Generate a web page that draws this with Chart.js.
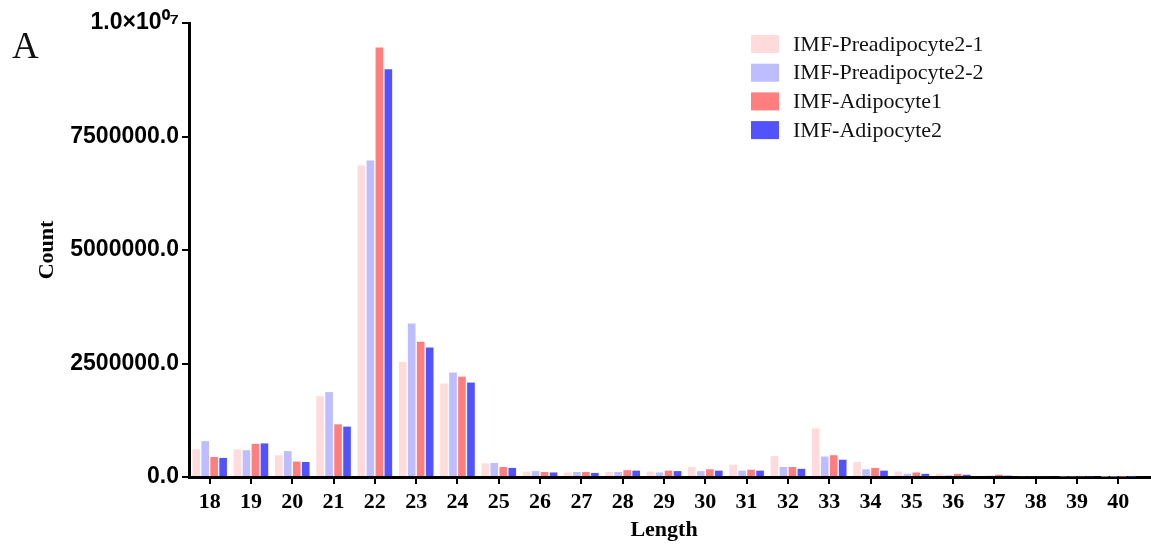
<!DOCTYPE html>
<html>
<head>
<meta charset="utf-8">
<script src="https://cdn.jsdelivr.net/npm/chart.js@4.4.1/dist/chart.umd.min.js"></script>
<style>
  body { margin: 0; background: #fff; }
</style>
</head>
<body>
<canvas id="lengthChart" width="1151" height="550"></canvas>
<script>
// read length distribution (counts per read length)
const lengths = ['18', '19', '20', '21', '22', '23', '24', '25', '26', '27', '28', '29',
    '30', '31', '32', '33', '34', '35', '36', '37', '38', '39', '40'];

const pre1Counts = [610000, 610000, 480000, 1780000, 6860000, 2540000, 2060000, 300000, 120000, 100000, 110000, 120000,
    220000, 270000, 460000, 1070000, 330000, 120000, 70000, 30000, 20000, 15000, 10000];
const pre2Counts = [790000, 590000, 570000, 1870000, 6970000, 3380000, 2300000, 310000, 130000, 110000, 110000, 100000,
    130000, 140000, 220000, 450000, 170000, 70000, 40000, 30000, 20000, 15000, 10000];
const adipo1Counts = [440000, 730000, 340000, 1160000, 9460000, 2980000, 2210000, 220000, 110000, 110000, 150000, 140000,
    170000, 160000, 220000, 480000, 200000, 100000, 70000, 50000, 20000, 15000, 10000];
const adipo2Counts = [420000, 740000, 330000, 1110000, 8980000, 2850000, 2080000, 200000, 100000, 90000, 140000, 130000,
    140000, 140000, 180000, 380000, 140000, 70000, 50000, 30000, 20000, 15000, 10000];

const yTicks = [0, 2500000, 5000000, 7500000, 10000000];

const serif = '"Liberation Serif", "Times New Roman", serif';
const sans = '"Liberation Sans", Arial, sans-serif';

// legend sits inside the plot, so draw it by hand
const boxLegend = {
    id: 'boxLegend',
    afterDraw(chart) {
        const ctx = chart.ctx;
        ctx.save();
        ctx.font = '22px ' + serif;
        ctx.textBaseline = 'middle';
        chart.data.datasets.forEach((ds, i) => {
            const y = 44 + i * 28.7;
            ctx.fillStyle = ds.backgroundColor;
            ctx.fillRect(751, y - 9, 28, 18);
            ctx.fillStyle = '#111';
            ctx.fillText(ds.label, 793, y + 1);
        });
        // panel letter
        ctx.font = '37px ' + serif;
        ctx.textBaseline = 'alphabetic';
        ctx.fillText('A', 12, 58);
        // x axis line runs on to the edge
        const area = chart.chartArea;
        ctx.strokeStyle = '#000';
        ctx.lineWidth = 3;
        ctx.beginPath();
        ctx.moveTo(area.right - 2, area.bottom + 0.5);
        ctx.lineTo(chart.width, area.bottom + 0.5);
        ctx.stroke();
        ctx.restore();
    }
};

const ctx = document.getElementById('lengthChart').getContext('2d');
const lengthChart = new Chart(ctx, {
    type: 'bar',
    data: {
        labels: lengths,
        datasets: [
            { label: 'IMF-Preadipocyte2-1', data: pre1Counts, backgroundColor: 'rgb(255, 219, 219)' },
            { label: 'IMF-Preadipocyte2-2', data: pre2Counts, backgroundColor: 'rgb(189, 189, 255)' },
            { label: 'IMF-Adipocyte1', data: adipo1Counts, backgroundColor: 'rgb(255, 126, 126)' },
            { label: 'IMF-Adipocyte2', data: adipo2Counts, backgroundColor: 'rgb(82, 82, 255)' }
        ]
    },
    options: {
        responsive: false,
        animation: false,
        layout: { padding: { top: 23, right: 12, left: 0, bottom: 0 } },
        datasets: {
            bar: { categoryPercentage: 0.87, barPercentage: 0.85 }
        },
        plugins: {
            legend: { display: false },
            tooltip: { enabled: false }
        },
        scales: {
            x: {
                afterFit: scale => { scale.height = 73; },
                grid: {
                    offset: false,
                    drawOnChartArea: false,
                    drawTicks: true,
                    tickLength: 7,
                    color: '#000',
                    lineWidth: 2
                },
                border: { display: true, color: '#000', width: 3 },
                ticks: {
                    color: '#000',
                    padding: 5,
                    font: { family: serif, size: 22, weight: 'bold' }
                },
                title: {
                    display: true,
                    text: 'Length',
                    color: '#000',
                    padding: { top: 0, bottom: 6 },
                    font: { family: serif, size: 22, weight: 'bold' }
                }
            },
            y: {
                min: 0,
                max: 10000000,
                afterFit: scale => { scale.width = 189; },
                afterBuildTicks: scale => { scale.ticks = yTicks.map(v => ({ value: v })); },
                grid: {
                    drawOnChartArea: false,
                    drawTicks: true,
                    tickLength: 7,
                    color: '#000',
                    lineWidth: 2
                },
                border: { display: true, color: '#000', width: 3 },
                ticks: {
                    color: '#000',
                    padding: 3,
                    font: { family: sans, size: 23, weight: 'bold' },
                    callback: v => v === 10000000 ? '1.0×10⁰⁷' : v.toFixed(1)
                },
                title: {
                    display: true,
                    text: 'Count',
                    color: '#000',
                    padding: { top: 34, bottom: 0 },
                    font: { family: serif, size: 22, weight: 'bold' }
                }
            }
        }
    },
    plugins: [boxLegend]
});
</script>
</body>
</html>
